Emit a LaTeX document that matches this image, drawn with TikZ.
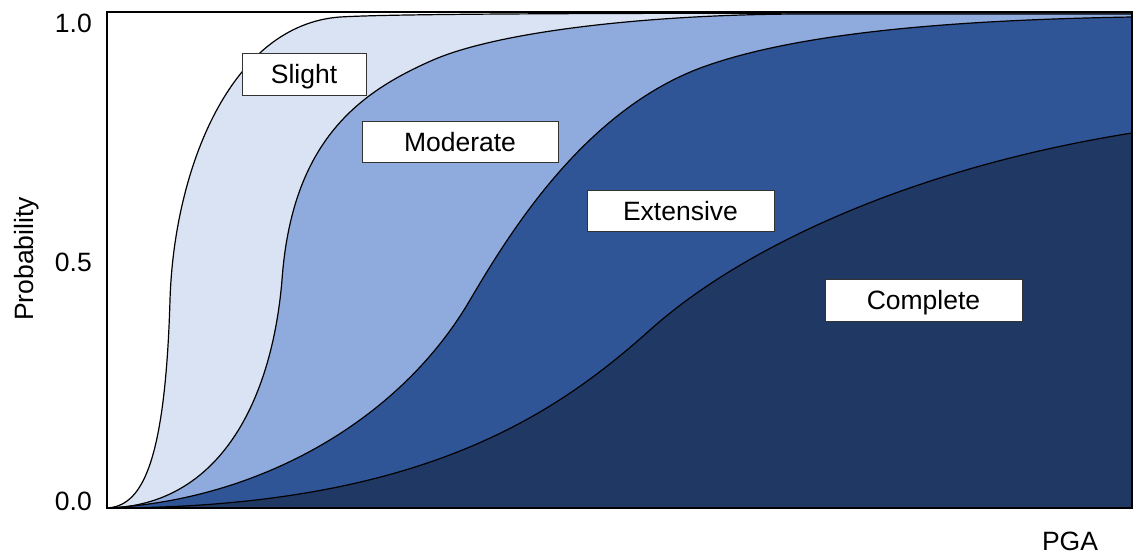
\documentclass[tikz,border=0pt]{standalone}
\usepackage{fontspec}
\setmainfont{Liberation Sans}
\definecolor{cSlight}{RGB}{218,227,243}
\definecolor{cModerate}{RGB}{143,170,220}
\definecolor{cExtensive}{RGB}{47,85,151}
\definecolor{cComplete}{RGB}{32,56,100}
\begin{document}
\begin{tikzpicture}[x=1pt,y=-1pt,
  font=\fontsize{26.5}{30}\selectfont,
  curve/.style={draw=black, line width=1.2pt},
  lbl/.style={draw=black!80, fill=white, line width=1pt, inner sep=0pt,
    text height=19pt, text depth=0pt, align=center},
  tick/.style={anchor=base east, inner sep=0pt}]
\useasboundingbox (0,0) rectangle (1133,558);
% Slight
\filldraw[curve, fill=cSlight] (107,508)
  .. controls (140,506) and (165,470) .. (170,300)
  .. controls (174,170) and (230,25) .. (340,17)
  .. controls (400,13.5) and (600,13) .. (1132,13)
  -- (1132,508) -- cycle;
% Moderate
\filldraw[curve, fill=cModerate] (107,508)
  .. controls (220,506) and (272,400) .. (282,280)
  .. controls (292,140) and (360,92) .. (433,60)
  .. controls (500,31) and (650,14.5) .. (800,14)
  -- (1132,14) -- (1132,508) -- cycle;
% Extensive
\filldraw[curve, fill=cExtensive] (107,508)
  .. controls (260,500) and (400,420) .. (470,300)
  .. controls (510,232) and (585,110) .. (703,67)
  .. controls (797,33) and (950,20) .. (1132,17)
  -- (1132,508) -- cycle;
% Complete
\filldraw[curve, fill=cComplete] (107,508)
  .. controls (420,508) and (555,415) .. (650,330)
  .. controls (735,253.5) and (900,170) .. (1132,133)
  -- (1132,508) -- cycle;
% frame
\draw[line width=2.5pt] (107,12) rectangle (1132,508);
% labels
\node[lbl, minimum width=124pt, minimum height=42pt] (slight) at (304,74) {Slight};
\node[lbl, minimum width=196pt, minimum height=41pt] (moderate) at (460,141.5) {Moderate};
\node[lbl, minimum width=187pt, minimum height=41pt] (extensive) at (680.5,210.5) {Extensive};
\node[lbl, minimum width=197pt, minimum height=42pt] (complete) at (923.5,300) {Complete};
% axes text
\node[tick] (t10) at (92,32) {1.0};
\node[tick] (t05) at (92,271) {0.5};
\node[tick] (t00) at (92,510) {0.0};
\node[anchor=base, inner sep=0pt, rotate=90] (ylab) at (33,259) {Probability};
\node[anchor=base, inner sep=0pt] (xlab) at (1070,550) {PGA};
\end{tikzpicture}
\end{document}
